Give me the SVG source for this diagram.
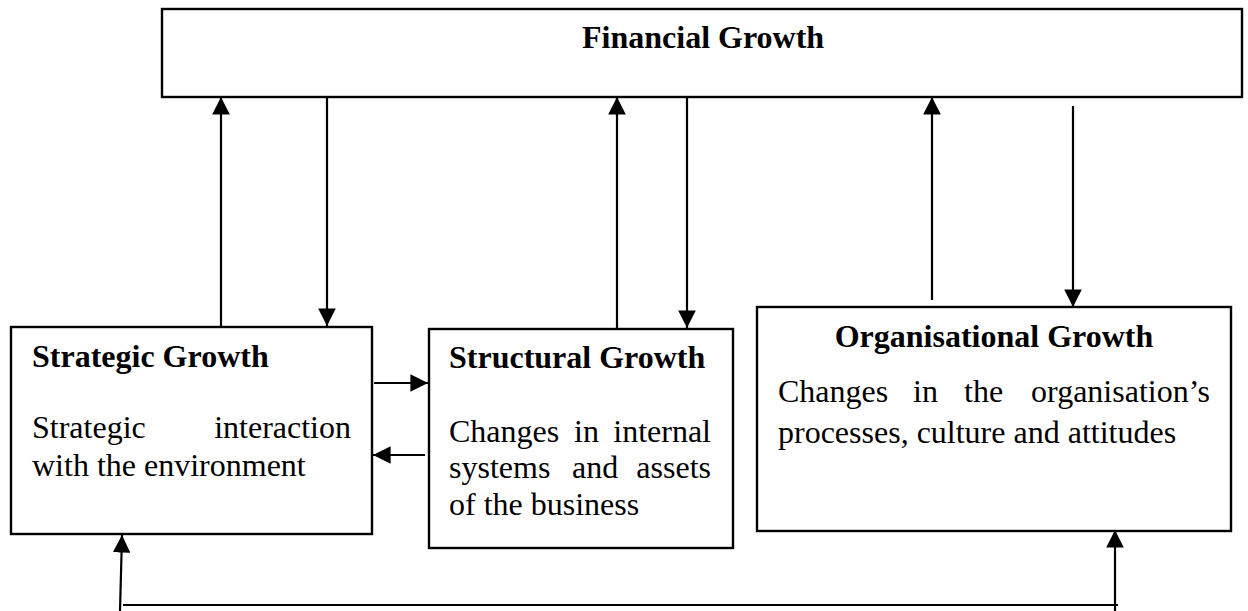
<svg xmlns="http://www.w3.org/2000/svg" width="1248" height="611" viewBox="0 0 1248 611">
  <defs>
    <marker id="arrow" viewBox="0 0 10 10" refX="10" refY="5" markerWidth="8" markerHeight="8" markerUnits="strokeWidth" orient="auto">
      <path d="M0,0 L10,5 L0,10 Z" fill="#000"/>
    </marker>
    <style>
      .box { fill: #fff; stroke: #000; stroke-width: 2.4; }
      .title { font-family: "Liberation Serif", "Times New Roman", serif; font-weight: bold; font-size: 32px; fill: #000; }
      .body { font-family: "Liberation Serif", "Times New Roman", serif; font-size: 32px; fill: #000; }
      .end { text-anchor: end; }
      .conn { fill: none; stroke: #000; stroke-width: 2.2; }
      .arr { marker-end: url(#arrow); }
    </style>
  </defs>
  <rect width="1248" height="611" fill="#fff"/>

  <!-- Financial Growth -->
  <g id="financial">
    <rect class="box" x="162" y="9" width="1080" height="88"/>
    <text class="title" x="582" y="48">Financial Growth</text>
  </g>

  <!-- Strategic Growth -->
  <g id="strategic">
    <rect class="box" x="11" y="327" width="361" height="207"/>
    <text class="title" x="32" y="367">Strategic Growth</text>
    <text class="body" x="32" y="438">Strategic</text>
    <text class="body end" x="351" y="438">interaction</text>
    <text class="body" x="32" y="476">with the environment</text>
  </g>

  <!-- Structural Growth -->
  <g id="structural">
    <rect class="box" x="429" y="329" width="304" height="219"/>
    <text class="title" x="449" y="368">Structural Growth</text>
    <text class="body" x="449" y="442">Changes</text>
    <text class="body" x="574" y="442">in</text>
    <text class="body end" x="711" y="442">internal</text>
    <text class="body" x="449" y="478">systems</text>
    <text class="body" x="572" y="478">and</text>
    <text class="body end" x="711" y="478">assets</text>
    <text class="body" x="449" y="515">of the business</text>
  </g>

  <!-- Organisational Growth -->
  <g id="organisational">
    <rect class="box" x="757" y="307" width="474" height="224"/>
    <text class="title" x="994" y="347" text-anchor="middle">Organisational Growth</text>
    <text class="body" x="778" y="402">Changes</text>
    <text class="body" x="913" y="402">in</text>
    <text class="body" x="964" y="402">the</text>
    <text class="body end" x="1210" y="402">organisation’s</text>
    <text class="body" x="778" y="443">processes, culture and attitudes</text>
  </g>

  <!-- Connectors -->
  <g id="connectors">
    <!-- Strategic <-> Financial -->
    <line class="conn arr" x1="221" y1="327" x2="221" y2="97"/>
    <line class="conn arr" x1="327" y1="97" x2="327" y2="326"/>
    <!-- Structural <-> Financial -->
    <line class="conn arr" x1="617" y1="329" x2="617" y2="97"/>
    <line class="conn arr" x1="687" y1="97" x2="687" y2="328"/>
    <!-- Organisational <-> Financial -->
    <line class="conn arr" x1="932" y1="300" x2="932" y2="97"/>
    <line class="conn arr" x1="1073" y1="106" x2="1073" y2="307"/>
    <!-- Strategic <-> Structural -->
    <line class="conn arr" x1="374" y1="383" x2="428" y2="383"/>
    <line class="conn arr" x1="425" y1="455" x2="373" y2="455"/>
    <!-- Organisational -> Strategic loop along the bottom -->
    <line class="conn" x1="123" y1="605" x2="1118" y2="605"/>
    <line class="conn arr" x1="120" y1="611" x2="122" y2="535"/>
    <line class="conn arr" x1="1115" y1="611" x2="1115" y2="530"/>
  </g>
</svg>
